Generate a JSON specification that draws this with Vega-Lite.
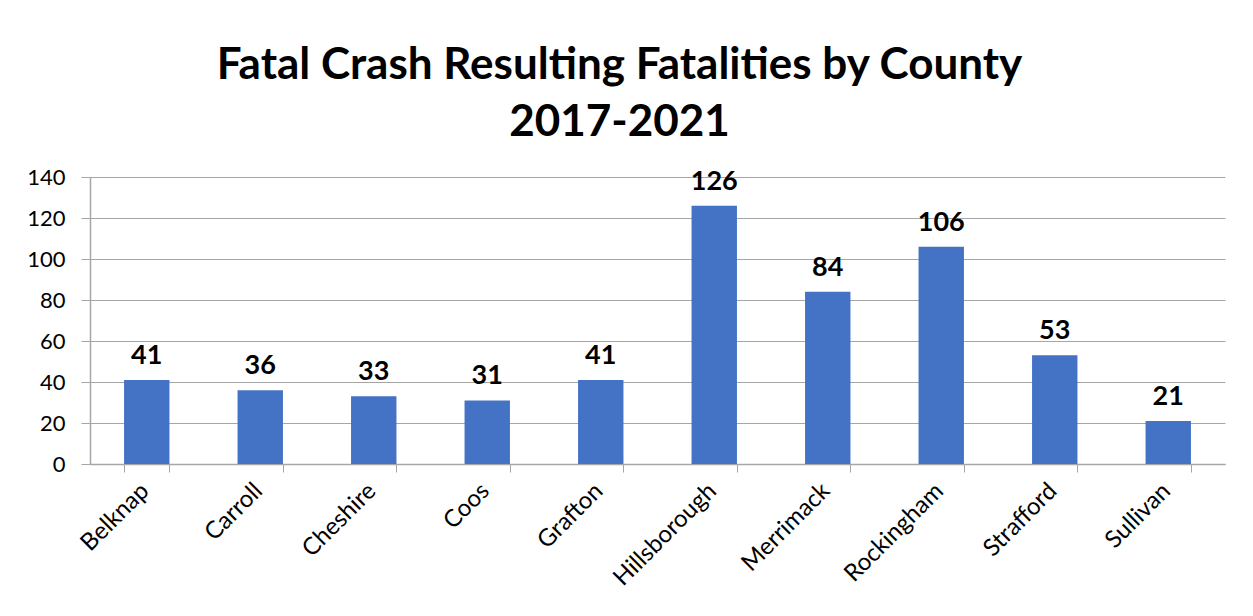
{
  "$schema": "https://vega.github.io/schema/vega-lite/v6.json",
  "width": 1135,
  "height": 287,
  "autosize": "none",
  "padding": {"left": 90, "top": 177, "right": 28, "bottom": 152},
  "background": "#ffffff",
  "title": {
    "text": ["Fatal Crash Resulting Fatalities by County", "2017-2021"],
    "font": "Lato",
    "fontSize": 44,
    "fontWeight": "bold",
    "color": "#000000",
    "anchor": "middle",
    "frame": "group",
    "dx": -38,
    "offset": 21,
    "lineHeight": 57
  },
  "data": {
    "values": [
      {"county": "Belknap", "fatalities": 41},
      {"county": "Carroll", "fatalities": 36},
      {"county": "Cheshire", "fatalities": 33},
      {"county": "Coos", "fatalities": 31},
      {"county": "Grafton", "fatalities": 41},
      {"county": "Hillsborough", "fatalities": 126},
      {"county": "Merrimack", "fatalities": 84},
      {"county": "Rockingham", "fatalities": 106},
      {"county": "Strafford", "fatalities": 53},
      {"county": "Sullivan", "fatalities": 21}
    ]
  },
  "encoding": {
    "x": {
      "field": "county",
      "type": "nominal",
      "sort": null,
      "scale": {"paddingInner": 0.6, "paddingOuter": 0.3},
      "axis": {
        "title": null,
        "labelAngle": -45,
        "labelAlign": "right",
        "labelBaseline": "middle",
        "labelFont": "Lato",
        "labelFontSize": 24,
        "labelColor": "#000000",
        "labelPadding": 15,
        "labelOffset": -2,
        "tickBand": "extent",
        "tickSize": 8,
        "tickColor": "#a6a6a6",
        "domainColor": "#a6a6a6",
        "domainWidth": 1.5,
        "grid": false
      }
    },
    "y": {
      "field": "fatalities",
      "type": "quantitative",
      "scale": {"domain": [0, 140], "nice": false},
      "axis": {
        "title": null,
        "values": [0, 20, 40, 60, 80, 100, 120, 140],
        "labelFont": "Lato",
        "labelFontSize": 22,
        "labelColor": "#000000",
        "labelPadding": 16,
        "tickSize": 9,
        "tickColor": "#a6a6a6",
        "domainColor": "#a6a6a6",
        "domainWidth": 1.5,
        "grid": true,
        "gridColor": "#a6a6a6",
        "gridWidth": 1.2
      }
    }
  },
  "layer": [
    {"mark": {"type": "bar", "color": "#4472C4"}},
    {
      "mark": {
        "type": "text",
        "font": "Lato",
        "fontSize": 27,
        "fontWeight": "bold",
        "color": "#000000",
        "baseline": "alphabetic",
        "dy": -16
      },
      "encoding": {"text": {"field": "fatalities", "type": "quantitative"}}
    }
  ],
  "config": {"view": {"stroke": null}}
}
